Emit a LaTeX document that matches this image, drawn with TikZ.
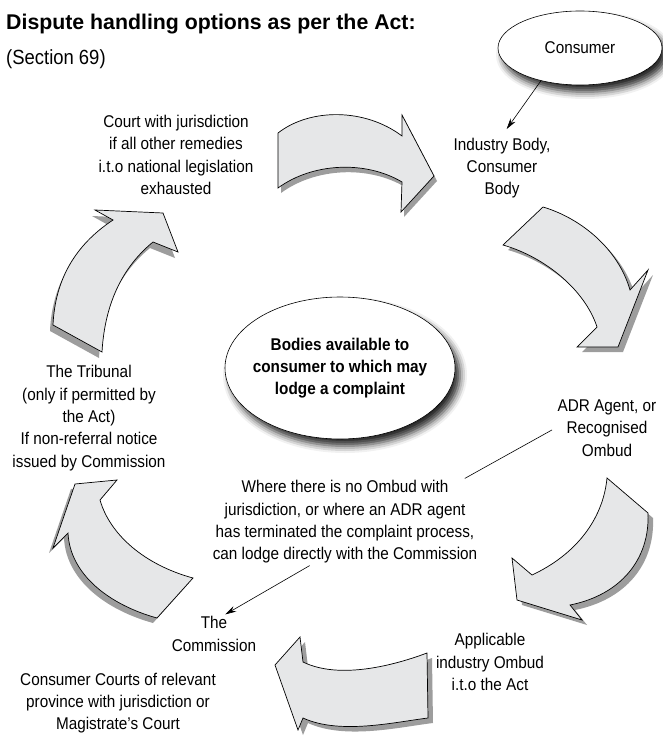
\documentclass[tikz,border=0pt]{standalone}
\usepackage{fontspec}
\setmainfont{Liberation Sans}[FakeStretch=0.9]
\newfontfamily\titlefont{Liberation Sans}
\usetikzlibrary{arrows.meta, shapes.geometric, shadows.blur}

\definecolor{arrowfill}{HTML}{E6E7E8}
\definecolor{shadowgray}{HTML}{9D9D9D}

\tikzset{
  flow/.style 2 args={draw=black, line width=0.7pt, fill=arrowfill, line join=miter,
    preaction={fill=shadowgray, transform canvas={xshift=#1, yshift=#2}}},
  txt/.style={align=center, font=\fontsize{17}{22.3}\selectfont, inner sep=2pt},
  link/.style={-{Stealth[length=11pt, width=6pt]}, line width=0.6pt},
  bubble/.style={ellipse, draw=black, line width=0.6pt, fill=white,
    blur shadow={shadow xshift=5pt, shadow yshift=-7pt, shadow blur radius=7pt, shadow opacity=85}}
}

\begin{document}
\begin{tikzpicture}[x=1pt, y=-1pt]
\useasboundingbox (0,0) rectangle (662,738);

% curved arrows round the circle
\draw[flow={3pt}{-5pt}] (278,133) .. controls (310,108) and (365,108) .. (402,136) -- (402,115) -- (434,176) -- (401,212) -- (402,182) .. controls (365,160) and (312,163) .. (278,188) -- cycle;
\draw[flow={5pt}{-5pt}] (543,207) .. controls (580,218) and (618,248) .. (630,290) -- (648,270) -- (618,347) -- (577,347) -- (597,327) .. controls (585,290) and (545,257) .. (503,245) -- cycle;
\draw[flow={5pt}{-5pt}] (607,478) -- (648,513) .. controls (650,560) and (620,595) .. (570,605) -- (582,620) -- (517,600) -- (512,558) -- (532,575) .. controls (575,555) and (603,520) .. (607,478) -- cycle;
\draw[flow={5pt}{-5pt}] (427,653) .. controls (395,665) and (340,680) .. (303,662) -- (300,637) -- (275,665) -- (298,730) -- (303,718) .. controls (340,735) and (395,722) .. (428,718) -- cycle;
\draw[flow={-4pt}{-5pt}] (193,578) -- (157,618) .. controls (110,605) and (70,575) .. (68,533) -- (53,548) -- (75,484) -- (117,480) -- (100,500) .. controls (110,535) and (145,565) .. (193,578) -- cycle;
\draw[flow={-3pt}{-6pt}] (102,352) -- (53,325) .. controls (55,280) and (75,245) .. (113,220) -- (95,210) -- (163,213) -- (178,252) -- (153,242) .. controls (125,265) and (105,300) .. (102,352) -- cycle;

% heading
\node[anchor=base west, inner sep=0pt, font=\titlefont\bfseries\fontsize{21.3}{24}\selectfont] (title) at (6,30) {Dispute handling options as per the Act:};
\node[anchor=base west, inner sep=0pt, font=\fontsize{20.5}{24}\selectfont] (section) at (6,65) {(Section 69)};

% bubbles
\node[bubble, minimum width=230pt, minimum height=142pt, inner xsep=-10pt, inner ysep=0pt, align=center,
  font=\bfseries\fontsize{17}{22.3}\selectfont] (bodies) at (340,368) {Bodies available to\\consumer to which may\\lodge a complaint};
\node[bubble, minimum width=164pt, minimum height=74pt, inner sep=0pt,
  font=\fontsize{17}{22.3}\selectfont] (consumer) at (580,48) {Consumer};

% bodies
\node[txt] (industry) at (502,168) {Industry Body,\\Consumer\\Body};
\node[txt] (adr) at (607,428) {ADR Agent, or\\Recognised\\Ombud};
\node[txt] (ombud) at (490,662) {Applicable\\industry Ombud\\i.t.o the Act};
\node[txt] (commission) at (214,634) {The\\Commission};
\node[txt] (courts) at (118,703) {Consumer Courts of relevant\\province with jurisdiction or\\Magistrate’s Court};
\node[txt] (tribunal) at (89,418) {The Tribunal\\(only if permitted by\\the Act)\\If non-referral notice\\issued by Commission};
\node[txt] (court) at (176,155) {Court with jurisdiction\\if all other remedies\\i.t.o national legislation\\exhausted};
\node[txt] (note) at (345,522) {Where there is no Ombud with\\jurisdiction, or where an ADR agent\\has terminated the complaint process,\\can lodge directly with the Commission};

% pointers
\draw[link, shorten >=8pt] (consumer.220) -- (industry.north);
\draw[line width=0.6pt, shorten >=4pt] (note.20) -- (adr.west);
\draw[link] (note.231) -- (commission.60);
\end{tikzpicture}
\end{document}
